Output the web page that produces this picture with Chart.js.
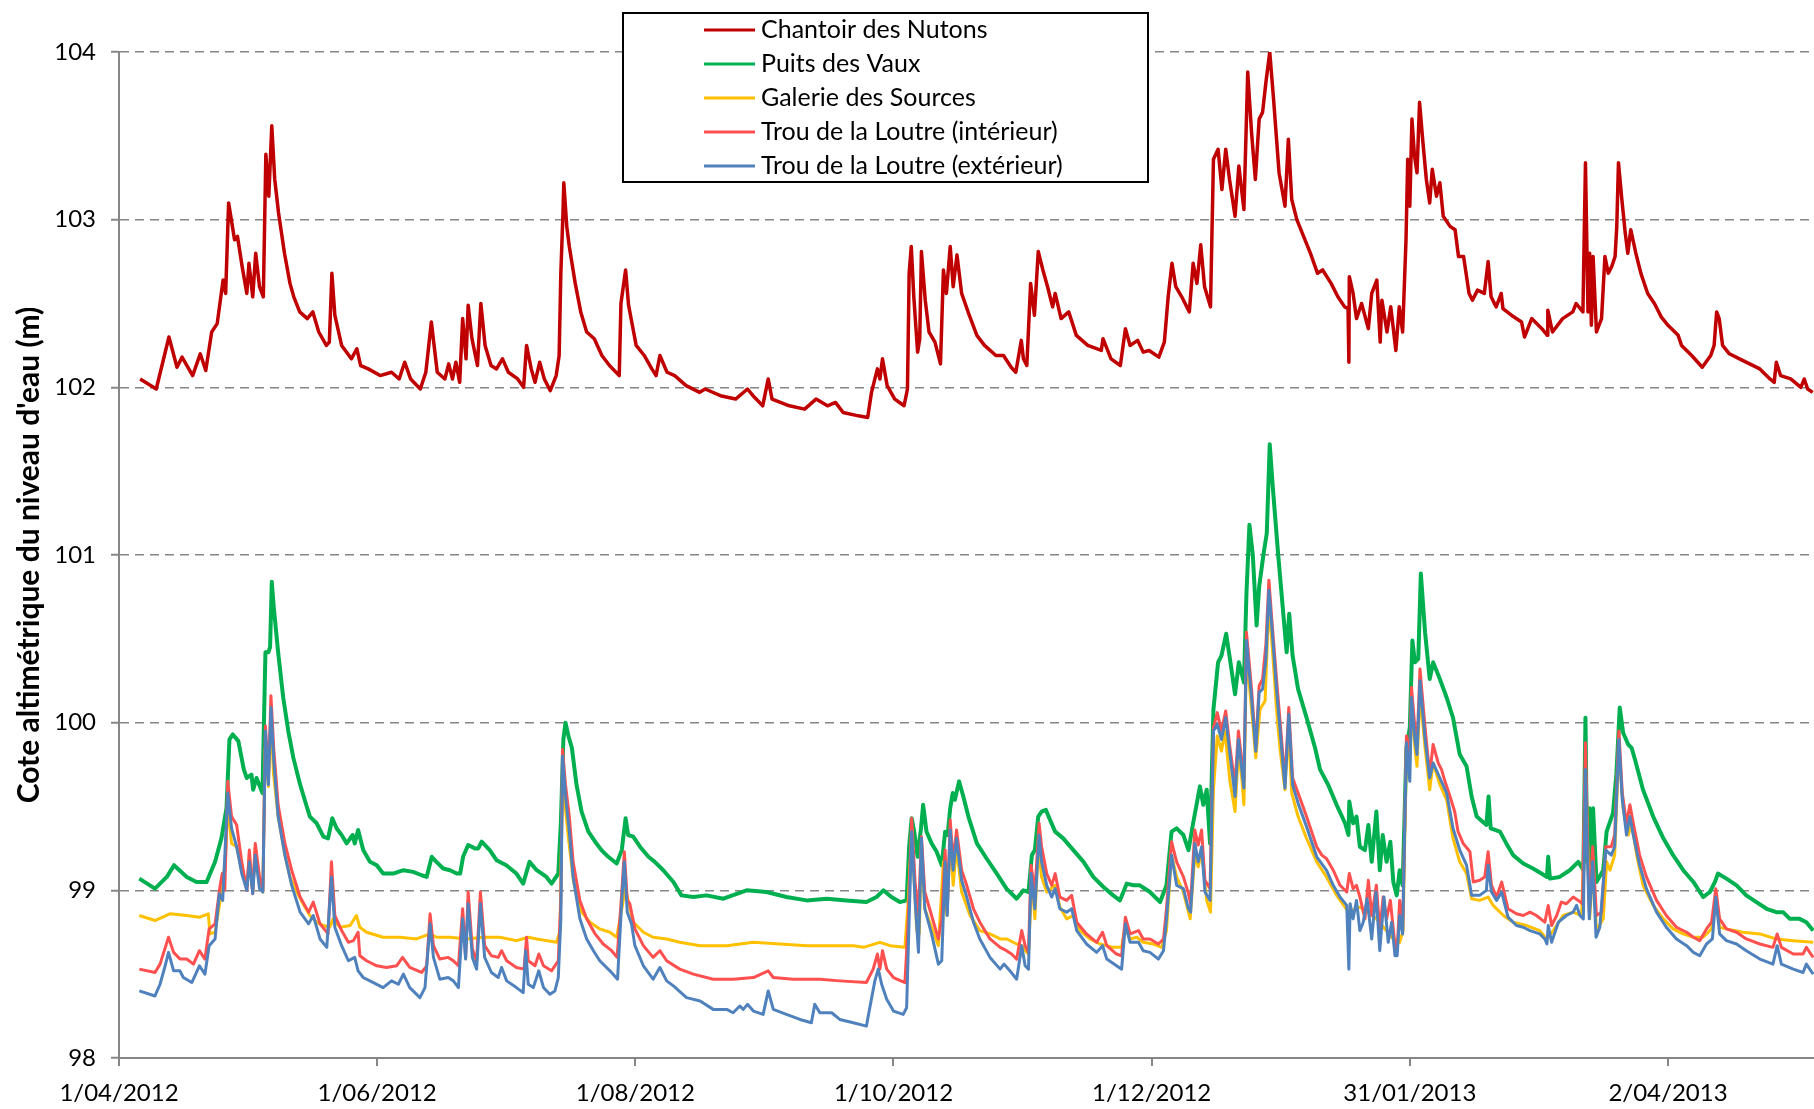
<!DOCTYPE html>
<html>
<head>
<meta charset="utf-8">
<title>Niveaux d'eau</title>
<script src="https://cdn.jsdelivr.net/npm/chart.js@4.4.1/dist/chart.umd.min.js"></script>
<style>
  html, body { margin: 0; padding: 0; background: #fff; }
  #wrap { width: 1814px; height: 1109px; }
</style>
</head>
<body>
<div id="wrap"><canvas id="chart" width="1814" height="1109"></canvas></div>
<script>
// x = days since 1/04/2012, y = water level (m)
const tickDays = [0, 61, 122, 183, 244, 305, 366];
const tickLabels = ['1/04/2012', '1/06/2012', '1/08/2012', '1/10/2012', '1/12/2012', '31/01/2013', '2/04/2013'];
const seriesNames = [
  'Chantoir des Nutons',
  'Puits des Vaux',
  'Galerie des Sources',
  'Trou de la Loutre (intérieur)',
  'Trou de la Loutre (extérieur)'
];

const nutons = [
  [5.0,102.05],[8.8,101.99],[11.8,102.30],[13.7,102.12],[14.9,102.18],[17.4,102.07],[19.2,102.20],[20.5,102.10],[21.9,102.33],[23.2,102.38],
  [24.6,102.64],[25.2,102.56],[25.9,103.10],[27.3,102.88],[28.0,102.90],[29.1,102.72],[30.2,102.56],[30.7,102.74],[31.6,102.54],[32.3,102.80],
  [33.2,102.60],[34.1,102.54],[34.7,103.39],[35.4,103.14],[36.1,103.56],[36.8,103.24],[37.7,103.04],[39.1,102.80],[40.4,102.62],[41.3,102.54],
  [42.7,102.45],[44.5,102.41],[45.8,102.45],[47.2,102.33],[49.0,102.25],[49.7,102.27],[50.3,102.68],[51.0,102.43],[52.6,102.25],[54.9,102.17],
  [56.2,102.23],[57.1,102.13],[58.9,102.11],[61.7,102.07],[64.4,102.09],[66.2,102.05],[67.5,102.15],[68.9,102.05],[71.2,101.99],[72.5,102.09],
  [73.8,102.39],[75.2,102.09],[77.0,102.05],[77.9,102.14],[78.8,102.05],[79.6,102.15],[80.5,102.03],[81.2,102.41],[82.0,102.17],[82.5,102.49],
  [83.4,102.29],[84.7,102.13],[85.5,102.50],[86.5,102.25],[87.9,102.13],[89.2,102.11],[90.6,102.17],[92.0,102.09],[94.2,102.05],[95.6,102.00],
  [96.3,102.25],[97.4,102.11],[98.3,102.03],[99.4,102.15],[100.5,102.05],[101.9,101.98],[103.3,102.07],[104.0,102.19],[104.4,102.68],[104.9,103.04],
  [105.1,103.22],[105.8,102.96],[106.4,102.84],[107.8,102.62],[109.1,102.45],[110.5,102.33],[112.3,102.29],[114.1,102.19],[115.9,102.13],[118.2,102.07],
  [118.6,102.50],[119.7,102.70],[120.4,102.49],[121.3,102.37],[122.2,102.25],[124.1,102.19],[125.9,102.11],[126.9,102.07],[127.8,102.19],[129.5,102.09],
  [131.3,102.07],[134.0,102.01],[137.2,101.97],[138.5,101.99],[142.1,101.95],[145.7,101.93],[148.5,101.99],[149.8,101.95],[152.1,101.89],[153.4,102.05],
  [154.3,101.93],[158.4,101.89],[162.0,101.87],[164.7,101.93],[167.4,101.89],[169.3,101.91],[171.1,101.85],[174.7,101.83],[176.9,101.82],[177.8,101.97],
  [179.2,102.11],[179.8,102.05],[180.4,102.17],[181.5,102.01],[183.3,101.93],[185.5,101.89],[186.3,101.99],[186.7,102.68],[187.2,102.84],[187.8,102.54],
  [188.7,102.21],[189.2,102.29],[189.6,102.81],[190.5,102.52],[191.4,102.33],[192.8,102.27],[194.1,102.14],[194.8,102.70],[195.5,102.56],[196.4,102.84],
  [197.1,102.60],[198.0,102.79],[199.1,102.56],[200.9,102.43],[202.7,102.31],[204.5,102.25],[207.2,102.19],[209.0,102.19],[210.8,102.12],[211.9,102.09],
  [213.2,102.28],[213.7,102.17],[214.5,102.13],[215.4,102.62],[216.3,102.43],[217.2,102.81],[218.3,102.70],[219.4,102.60],[220.6,102.48],[221.2,102.56],
  [222.6,102.41],[224.4,102.45],[226.2,102.31],[228.9,102.25],[232.1,102.22],[232.5,102.29],[234.4,102.17],[236.6,102.13],[237.8,102.35],[238.9,102.25],
  [240.7,102.28],[242.0,102.21],[243.4,102.22],[245.7,102.18],[247.0,102.27],[247.9,102.54],[248.8,102.74],[249.7,102.60],[251.1,102.54],[252.9,102.45],
  [253.8,102.74],[254.7,102.62],[255.6,102.85],[256.5,102.60],[257.9,102.48],[258.6,103.36],[259.7,103.42],[260.6,103.18],[261.5,103.42],[262.4,103.24],
  [263.7,103.02],[264.6,103.32],[265.8,103.06],[266.7,103.88],[267.6,103.52],[268.5,103.24],[269.4,103.60],[270.2,103.64],[271.0,103.82],[271.9,104.00],
  [272.8,103.72],[274.1,103.28],[275.5,103.08],[276.3,103.48],[277.1,103.12],[278.3,103.00],[279.9,102.90],[281.5,102.80],[283.2,102.68],[284.4,102.70],
  [286.4,102.62],[288.0,102.54],[289.6,102.48],[290.4,102.47],[290.6,102.15],[290.7,102.66],[291.6,102.56],[292.4,102.41],[293.6,102.50],[295.2,102.35],
  [296.0,102.56],[297.2,102.64],[298.0,102.27],[298.4,102.52],[299.6,102.33],[300.5,102.48],[301.7,102.22],[302.5,102.48],[303.3,102.33],[304.1,102.88],
  [304.5,103.36],[305.0,103.08],[305.5,103.60],[306.1,103.38],[306.7,103.28],[307.3,103.70],[308.1,103.46],[308.9,103.24],[309.7,103.10],[310.3,103.30],
  [311.3,103.14],[312.1,103.22],[312.9,103.02],[314.5,102.96],[315.7,102.94],[316.5,102.78],[317.7,102.78],[319.0,102.56],[319.8,102.52],[321.0,102.58],
  [322.6,102.56],[323.5,102.75],[324.2,102.54],[325.4,102.48],[326.6,102.56],[327.0,102.47],[329.0,102.43],[331.4,102.39],[332.1,102.30],[333.8,102.41],
  [336.2,102.35],[337.5,102.31],[337.6,102.46],[338.7,102.33],[341.1,102.41],[343.5,102.45],[344.3,102.50],[345.9,102.45],[346.5,103.34],[347.1,102.45],
  [347.5,102.80],[347.9,102.37],[348.3,102.78],[349.1,102.33],[350.3,102.41],[351.1,102.78],[351.9,102.68],[352.7,102.72],[353.5,102.78],[353.9,102.96],
  [354.3,103.34],[355.1,103.12],[355.9,102.92],[356.5,102.80],[357.2,102.94],[358.4,102.80],[359.6,102.68],[361.2,102.56],[362.8,102.50],[364.4,102.42],
  [366.0,102.37],[368.4,102.31],[369.2,102.25],[371.6,102.19],[374.1,102.12],[376.1,102.19],[376.9,102.25],[377.5,102.45],[378.1,102.41],[378.9,102.25],
  [380.5,102.20],[382.9,102.17],[385.3,102.14],[387.7,102.11],[390.1,102.05],[391.1,102.03],[391.6,102.15],[392.6,102.07],[395.0,102.05],[397.4,102.00],
  [398.2,102.05],[399.0,101.99],[400.2,101.97]
];

const vaux = [
  [4.8,99.07],[8.5,99.01],[11.3,99.08],[13.0,99.15],[16.0,99.08],[18.3,99.05],[20.7,99.05],[22.7,99.17],[24.2,99.31],[25.4,99.49],
  [26.1,99.90],[26.9,99.93],[28.2,99.89],[29.5,99.72],[30.2,99.67],[31.3,99.69],[31.7,99.60],[32.5,99.67],[33.9,99.58],[34.6,100.42],
  [35.3,100.42],[35.7,100.45],[36.1,100.84],[36.6,100.68],[37.6,100.42],[38.8,100.15],[40.0,99.95],[41.2,99.79],[42.8,99.63],[44.0,99.53],
  [45.1,99.44],[46.7,99.40],[48.3,99.32],[49.4,99.31],[50.4,99.43],[51.4,99.37],[52.6,99.33],[53.8,99.28],[55.2,99.33],[55.7,99.28],
  [56.5,99.36],[57.7,99.24],[59.3,99.17],[60.9,99.15],[62.4,99.10],[64.8,99.10],[67.2,99.12],[69.5,99.11],[71.5,99.09],[72.7,99.08],
  [73.9,99.20],[75.0,99.17],[76.6,99.13],[78.2,99.12],[79.8,99.10],[80.6,99.10],[81.3,99.20],[82.5,99.27],[84.1,99.25],[84.9,99.25],
  [85.7,99.29],[87.6,99.24],[89.2,99.18],[91.5,99.15],[93.9,99.10],[95.5,99.04],[97.0,99.17],[98.7,99.12],[101.0,99.08],[102.2,99.04],
  [103.8,99.10],[104.4,99.40],[105.0,99.90],[105.5,100.00],[106.2,99.92],[107.0,99.85],[108.1,99.63],[109.3,99.47],[110.9,99.35],[112.5,99.29],
  [114.0,99.24],[115.6,99.20],[117.6,99.16],[118.8,99.24],[119.7,99.43],[120.3,99.33],[121.5,99.32],[123.1,99.26],[125.1,99.20],[126.6,99.17],
  [128.6,99.12],[131.0,99.05],[132.9,98.97],[135.7,98.96],[138.8,98.97],[142.8,98.95],[148.3,99.00],[153.0,98.99],[157.7,98.96],[162.5,98.94],
  [167.2,98.95],[171.9,98.94],[176.6,98.93],[179.0,98.96],[180.6,99.00],[182.5,98.96],[184.5,98.93],[186.1,98.94],[186.7,99.26],[187.3,99.43],
  [187.9,99.35],[188.7,99.20],[189.5,99.37],[190.0,99.51],[190.8,99.35],[192.0,99.28],[193.2,99.23],[194.4,99.15],[195.2,99.35],[195.8,99.33],
  [196.4,99.49],[197.0,99.58],[197.5,99.54],[198.5,99.65],[199.5,99.56],[200.7,99.44],[202.7,99.28],[205.0,99.19],[207.4,99.10],[209.7,99.01],
  [212.1,98.95],[213.7,99.00],[214.9,98.99],[215.7,99.21],[216.4,99.24],[217.2,99.44],[218.0,99.47],[219.0,99.48],[220.0,99.42],[221.2,99.35],
  [223.1,99.31],[225.5,99.24],[227.9,99.17],[230.2,99.08],[232.6,99.02],[234.9,98.97],[236.5,98.94],[238.1,99.04],[239.7,99.03],[241.2,99.03],
  [243.6,98.99],[246.0,98.93],[247.5,99.03],[248.7,99.35],[249.9,99.37],[251.5,99.33],[252.7,99.24],[253.8,99.40],[254.6,99.51],[255.4,99.62],
  [256.2,99.51],[257.0,99.60],[257.8,99.28],[258.6,100.08],[259.7,100.36],[260.5,100.40],[261.6,100.53],[262.5,100.38],[263.7,100.17],[264.6,100.36],
  [265.8,100.24],[266.4,100.77],[267.1,101.18],[267.9,101.00],[268.8,100.58],[269.4,100.81],[270.4,101.00],[271.2,101.13],[271.9,101.66],[272.7,101.38],
  [273.9,101.00],[275.1,100.65],[275.9,100.42],[276.5,100.65],[277.3,100.40],[278.6,100.20],[280.6,100.03],[282.6,99.85],[283.8,99.72],[285.7,99.63],
  [287.7,99.51],[289.7,99.40],[290.5,99.33],[290.7,99.53],[291.6,99.40],[292.4,99.44],[293.2,99.26],[294.4,99.24],[295.2,99.39],[296.0,99.17],
  [297.1,99.47],[297.9,99.12],[298.6,99.33],[299.5,99.17],[300.4,99.29],[301.1,99.05],[301.9,98.97],[302.6,99.12],[303.3,99.03],[304.2,99.85],
  [305.0,99.97],[305.6,100.49],[306.2,100.36],[307.0,100.38],[307.6,100.89],[308.6,100.54],[309.7,100.26],[310.5,100.36],[312.1,100.26],[313.7,100.15],
  [315.2,100.03],[316.8,99.81],[318.4,99.74],[319.6,99.56],[320.8,99.44],[323.1,99.39],[323.6,99.56],[324.1,99.37],[326.3,99.35],[327.8,99.28],
  [329.4,99.21],[331.8,99.16],[334.1,99.13],[336.1,99.10],[337.4,99.08],[337.7,99.20],[338.1,99.07],[340.4,99.08],[342.8,99.12],[344.8,99.17],
  [346.0,99.12],[346.5,100.03],[346.9,99.17],[347.4,99.49],[347.9,99.15],[348.3,99.49],[349.1,99.05],[350.7,99.12],[351.5,99.35],[353.0,99.46],
  [353.8,99.69],[354.6,100.09],[355.4,99.94],[356.6,99.87],[357.4,99.85],[358.2,99.78],[360.1,99.60],[362.5,99.44],[364.9,99.31],[367.2,99.21],
  [369.6,99.12],[372.0,99.05],[374.3,98.96],[375.9,98.99],[377.1,99.05],[377.8,99.10],[379.8,99.07],[382.2,99.03],[384.5,98.97],[386.9,98.93],
  [389.3,98.89],[391.6,98.87],[393.2,98.87],[394.8,98.83],[397.1,98.83],[398.7,98.81],[400.3,98.76]
];

const sources = [
  [4.8,98.85],[8.5,98.82],[12.0,98.86],[16.0,98.85],[19.1,98.84],[21.1,98.86],[21.5,98.74],[22.7,98.75],[23.9,98.94],[25.1,99.17],
  [25.7,99.51],[26.6,99.28],[27.8,99.26],[29.0,99.12],[30.2,99.01],[30.8,99.21],[31.6,98.99],[32.2,99.26],[33.2,99.03],[34.0,98.99],
  [34.5,99.84],[35.3,99.62],[35.9,100.04],[36.5,99.70],[37.6,99.44],[39.2,99.21],[40.4,99.08],[42.0,98.99],[43.5,98.92],[45.1,98.85],
  [46.7,98.81],[48.3,98.79],[49.8,98.78],[50.6,98.83],[52.2,98.78],[54.6,98.79],[56.1,98.85],[56.9,98.78],[58.5,98.75],[62.4,98.72],
  [66.4,98.72],[70.3,98.71],[73.5,98.74],[75.0,98.72],[78.2,98.72],[82.1,98.71],[86.1,98.72],[90.0,98.72],[93.9,98.70],[96.7,98.72],
  [98.7,98.71],[103.4,98.69],[104.2,98.76],[104.8,99.67],[105.4,99.51],[106.2,99.31],[107.4,99.05],[109.3,98.87],[111.3,98.81],[113.6,98.77],
  [116.0,98.75],[117.6,98.72],[118.8,98.89],[119.6,99.01],[120.3,98.94],[121.5,98.81],[123.9,98.75],[126.2,98.72],[129.4,98.71],[132.5,98.69],
  [137.3,98.67],[143.6,98.67],[149.9,98.69],[156.2,98.68],[162.5,98.67],[168.8,98.67],[173.5,98.67],[175.9,98.66],[179.8,98.69],[182.2,98.67],
  [185.7,98.66],[186.5,98.94],[187.3,99.35],[188.5,98.76],[189.1,98.74],[189.6,99.28],[190.4,98.89],[192.0,98.78],[193.6,98.67],[194.8,99.17],
  [195.6,98.85],[196.4,99.31],[197.1,99.03],[197.9,99.26],[199.1,98.99],[201.1,98.85],[203.4,98.76],[205.8,98.74],[208.2,98.71],[209.7,98.71],
  [212.1,98.68],[213.3,98.67],[214.1,98.64],[214.9,98.62],[215.7,99.08],[216.4,98.83],[217.2,99.26],[218.0,99.08],[219.2,98.99],[221.2,99.03],
  [222.3,98.90],[223.9,98.83],[225.5,98.85],[227.1,98.76],[229.4,98.71],[231.8,98.68],[233.4,98.67],[234.9,98.66],[236.9,98.66],[237.7,98.78],
  [238.9,98.71],[240.5,98.72],[242.0,98.69],[244.4,98.68],[246.4,98.66],[247.5,98.76],[248.7,99.21],[249.9,99.08],[251.5,98.99],[253.1,98.83],
  [254.2,99.21],[255.0,99.14],[255.8,99.24],[257.0,98.94],[257.9,98.87],[258.6,99.60],[259.5,99.92],[260.5,99.83],[261.3,99.95],[262.5,99.65],
  [263.7,99.47],[264.5,99.83],[265.3,99.67],[265.8,99.51],[266.4,100.42],[267.6,100.08],[268.6,99.79],[269.6,100.08],[270.8,100.13],[271.7,100.72],
  [272.5,100.45],[273.5,100.08],[274.3,99.85],[275.5,99.60],[276.3,99.97],[277.1,99.58],[278.6,99.44],[280.6,99.31],[283.0,99.17],[285.3,99.08],
  [287.7,98.97],[289.7,98.90],[290.5,98.87],[293.2,98.90],[297.1,98.83],[301.1,98.71],[302.6,98.69],[303.4,98.76],[304.2,99.85],[305.0,99.78],
  [305.4,100.08],[306.2,99.85],[306.7,99.74],[307.4,100.17],[308.6,99.85],[309.7,99.60],[310.5,99.76],[312.1,99.63],[313.7,99.54],[315.2,99.31],
  [316.8,99.17],[318.4,99.10],[319.6,98.95],[321.5,98.94],[323.5,98.96],[324.7,98.91],[327.1,98.85],[329.4,98.81],[332.6,98.79],[335.7,98.76],
  [337.3,98.71],[338.9,98.76],[341.2,98.85],[343.6,98.87],[345.6,98.85],[346.6,99.67],[347.5,98.83],[348.3,99.17],[349.1,98.76],[350.7,98.83],
  [351.5,99.17],[352.3,99.12],[353.4,99.21],[354.4,99.85],[355.4,99.49],[356.6,99.33],[357.4,99.40],[358.6,99.21],[360.1,99.03],[362.5,98.91],
  [364.9,98.83],[367.2,98.77],[369.6,98.74],[372.0,98.72],[374.3,98.72],[376.3,98.77],[377.3,98.96],[378.2,98.78],[379.8,98.77],[383.7,98.75],
  [387.7,98.74],[391.6,98.71],[395.6,98.70],[400.3,98.69]
];

const interieur = [
  [4.8,98.53],[8.5,98.51],[9.7,98.56],[11.7,98.72],[12.9,98.63],[14.4,98.59],[16.0,98.59],[17.6,98.56],[19.0,98.64],[20.3,98.59],
  [21.3,98.77],[22.7,98.80],[23.9,99.03],[24.4,99.10],[25.0,99.00],[25.7,99.65],[26.6,99.44],[27.8,99.39],[29.0,99.17],[30.2,99.00],
  [30.8,99.24],[31.6,98.98],[32.2,99.28],[33.2,99.08],[34.0,99.00],[34.6,99.98],[35.3,99.67],[35.9,100.16],[36.6,99.83],[37.6,99.51],
  [39.2,99.28],[40.8,99.12],[42.8,98.96],[44.8,98.87],[45.9,98.93],[47.5,98.80],[49.4,98.74],[50.2,99.17],[51.0,98.85],[52.6,98.76],
  [54.2,98.69],[55.4,98.70],[56.5,98.75],[56.9,98.61],[58.5,98.58],[60.9,98.55],[63.2,98.54],[65.6,98.55],[67.0,98.60],[68.7,98.54],
  [71.5,98.51],[72.7,98.55],[73.5,98.86],[74.3,98.67],[75.8,98.59],[77.8,98.60],[79.0,98.58],[80.2,98.55],[81.2,98.89],[81.9,98.60],
  [82.5,98.99],[83.5,98.65],[84.5,98.58],[85.4,98.99],[86.4,98.67],[88.0,98.61],[89.6,98.60],[90.4,98.64],[91.6,98.58],[93.9,98.54],
  [95.7,98.53],[96.3,98.72],[96.7,98.58],[98.3,98.55],[99.2,98.62],[100.3,98.55],[102.2,98.52],[103.8,98.58],[104.4,98.94],[104.8,99.84],
  [105.5,99.63],[106.4,99.44],[107.3,99.17],[108.9,98.94],[110.5,98.83],[112.5,98.74],[114.4,98.68],[116.4,98.64],[117.7,98.60],[118.8,98.99],
  [119.4,99.23],[120.1,98.94],[120.7,98.92],[121.9,98.77],[123.9,98.67],[126.2,98.60],[127.8,98.64],[129.4,98.58],[132.5,98.53],[135.7,98.50],
  [140.4,98.47],[145.1,98.47],[149.9,98.48],[153.4,98.52],[154.6,98.48],[159.3,98.47],[165.6,98.47],[170.3,98.46],[176.6,98.45],[178.2,98.53],
  [179.2,98.62],[179.8,98.53],[180.4,98.64],[181.4,98.53],[183.0,98.48],[185.7,98.45],[186.5,98.83],[187.3,99.43],[188.1,99.05],[188.9,98.85],
  [189.6,99.32],[190.4,98.99],[192.0,98.85],[193.6,98.71],[194.4,98.83],[195.2,99.24],[195.7,98.87],[196.4,99.42],[197.1,99.17],[197.9,99.36],
  [199.1,99.12],[200.3,99.03],[201.9,98.89],[203.4,98.81],[205.8,98.71],[208.2,98.66],[209.7,98.64],[210.9,98.62],[212.1,98.59],[213.3,98.76],
  [214.1,98.67],[214.9,98.63],[215.5,99.15],[216.4,98.99],[217.4,99.40],[218.0,99.26],[219.2,99.10],[220.4,99.03],[221.2,99.10],[222.3,98.96],
  [223.9,98.94],[225.1,98.97],[226.3,98.81],[228.6,98.74],[231.0,98.69],[232.4,98.75],[233.4,98.67],[235.7,98.62],[236.9,98.61],[237.8,98.84],
  [238.9,98.74],[240.9,98.76],[242.0,98.71],[243.6,98.71],[245.6,98.68],[246.8,98.71],[247.5,98.89],[248.7,99.29],[249.9,99.17],[251.5,99.08],
  [252.7,98.98],[253.2,98.92],[254.2,99.36],[255.0,99.27],[255.8,99.36],[256.6,99.06],[257.8,99.01],[258.6,99.97],[259.5,100.06],[260.5,99.95],
  [261.5,100.07],[262.5,99.85],[263.7,99.63],[264.5,99.95],[265.3,99.77],[265.8,99.65],[266.4,100.54],[267.6,100.20],[268.6,99.85],[269.4,100.22],
  [270.2,100.26],[271.0,100.47],[271.7,100.85],[272.5,100.58],[273.5,100.26],[274.7,99.90],[275.5,99.65],[276.4,100.09],[277.3,99.67],[278.6,99.58],
  [280.6,99.44],[283.0,99.26],[284.2,99.21],[285.3,99.19],[286.9,99.12],[288.5,99.03],[290.1,98.99],[290.7,99.10],[291.6,99.01],[292.4,99.03],
  [293.2,98.96],[294.4,98.83],[295.2,99.06],[296.0,98.85],[297.1,99.03],[297.9,98.76],[298.7,98.96],[299.5,98.83],[300.4,98.94],[301.5,98.67],
  [302.0,98.64],[302.6,98.94],[303.3,98.76],[304.2,99.92],[305.0,99.81],[305.4,100.21],[306.2,99.97],[306.7,99.86],[307.4,100.32],[308.6,99.97],
  [309.7,99.69],[310.5,99.87],[311.7,99.76],[312.5,99.72],[313.3,99.65],[314.5,99.56],[315.6,99.47],[316.4,99.35],[317.6,99.28],[319.2,99.23],
  [320.0,99.05],[321.5,99.06],[322.7,99.08],[323.5,99.23],[324.3,99.03],[325.5,98.96],[326.7,99.05],[328.2,98.89],[330.2,98.86],[331.8,98.85],
  [333.4,98.87],[334.9,98.85],[336.9,98.81],[337.7,98.91],[338.5,98.79],[339.7,98.85],[340.8,98.93],[342.0,98.92],[343.6,98.96],[344.8,98.94],
  [345.8,98.92],[346.5,99.88],[347.0,99.28],[347.4,98.87],[348.2,99.26],[349.1,98.85],[350.3,98.87],[351.3,99.26],[352.6,99.26],[353.4,99.33],
  [354.4,99.95],[355.2,99.58],[356.2,99.40],[357.0,99.51],[357.8,99.40],[359.3,99.21],[360.9,99.08],[363.3,98.94],[365.6,98.85],[368.0,98.78],
  [370.4,98.75],[372.0,98.72],[373.5,98.70],[375.1,98.77],[376.3,98.81],[377.3,99.01],[378.2,98.83],[379.8,98.77],[382.2,98.75],[384.5,98.71],
  [387.7,98.68],[390.8,98.66],[391.8,98.74],[392.8,98.66],[395.6,98.62],[397.9,98.62],[398.7,98.66],[400.3,98.60]
];

const exterieur = [
  [4.8,98.40],[8.5,98.37],[9.7,98.44],[10.9,98.55],[11.7,98.63],[12.9,98.52],[14.4,98.52],[15.2,98.48],[17.2,98.45],[19.0,98.55],
  [20.3,98.50],[21.3,98.67],[22.7,98.71],[23.7,98.98],[24.5,98.94],[25.7,99.58],[26.6,99.37],[27.8,99.26],[29.0,99.10],[30.2,99.00],
  [30.8,99.17],[31.6,98.98],[32.2,99.21],[33.2,99.01],[34.0,98.99],[34.6,99.95],[35.3,99.63],[35.9,100.09],[36.6,99.76],[37.6,99.44],
  [39.2,99.21],[40.8,99.03],[42.8,98.87],[44.8,98.80],[45.9,98.85],[47.5,98.71],[49.1,98.66],[50.2,99.08],[51.0,98.78],[52.6,98.67],
  [54.2,98.58],[55.7,98.60],[56.5,98.52],[57.7,98.48],[60.1,98.45],[62.4,98.42],[64.4,98.46],[66.0,98.44],[67.2,98.50],[68.7,98.42],
  [71.1,98.36],[72.3,98.42],[73.5,98.80],[74.3,98.60],[75.8,98.47],[77.8,98.48],[79.0,98.46],[80.2,98.42],[81.2,98.83],[81.9,98.59],
  [82.5,98.92],[83.5,98.60],[84.5,98.53],[85.4,98.92],[86.4,98.60],[88.0,98.51],[89.6,98.48],[90.4,98.54],[91.6,98.46],[93.9,98.42],
  [95.5,98.39],[96.1,98.64],[96.7,98.44],[97.9,98.42],[99.2,98.52],[100.3,98.42],[101.8,98.38],[103.0,98.40],[103.8,98.48],[104.4,98.83],
  [104.8,99.80],[105.5,99.56],[106.4,99.35],[107.3,99.08],[108.9,98.83],[110.5,98.71],[112.1,98.64],[113.6,98.58],[116.0,98.52],[117.8,98.47],
  [118.8,98.94],[119.4,99.17],[120.1,98.87],[121.1,98.80],[121.9,98.67],[123.9,98.55],[126.2,98.47],[127.8,98.54],[129.4,98.46],[131.0,98.43],
  [134.1,98.36],[137.3,98.34],[140.4,98.29],[143.6,98.29],[145.1,98.27],[146.7,98.31],[147.5,98.29],[148.5,98.32],[149.9,98.28],[152.2,98.26],
  [153.4,98.40],[154.6,98.29],[157.7,98.26],[160.9,98.23],[163.6,98.21],[164.4,98.32],[165.6,98.27],[168.4,98.27],[170.3,98.23],[173.5,98.21],
  [176.6,98.19],[177.4,98.30],[178.6,98.46],[179.4,98.53],[180.2,98.44],[181.4,98.35],[183.0,98.28],[185.3,98.26],[186.1,98.30],[186.7,98.83],
  [187.3,99.35],[188.1,98.94],[188.9,98.63],[189.6,99.31],[190.4,98.89],[192.0,98.74],[193.6,98.56],[194.4,98.58],[195.2,99.17],[195.7,98.85],
  [196.4,99.36],[197.1,99.12],[197.9,99.31],[199.1,99.06],[200.3,98.96],[201.9,98.81],[203.4,98.71],[205.8,98.60],[208.2,98.53],[209.1,98.56],
  [210.5,98.52],[212.1,98.47],[213.3,98.67],[214.1,98.55],[214.9,98.53],[215.5,99.10],[216.4,98.89],[217.4,99.33],[218.0,99.17],[219.2,99.03],
  [220.4,98.96],[221.2,99.01],[222.3,98.89],[223.9,98.87],[225.1,98.89],[226.3,98.76],[228.6,98.68],[231.0,98.63],[232.4,98.67],[233.4,98.59],
  [235.7,98.55],[236.9,98.53],[237.8,98.80],[238.9,98.69],[240.9,98.69],[242.0,98.64],[243.6,98.63],[245.6,98.59],[246.8,98.64],[247.5,98.83],
  [248.7,99.21],[249.9,99.03],[251.5,99.01],[252.7,98.89],[253.2,98.87],[254.2,99.28],[255.0,99.17],[255.8,99.26],[256.6,98.99],[257.8,98.94],
  [258.6,99.95],[259.5,99.99],[260.5,99.90],[261.5,100.03],[262.5,99.81],[263.7,99.56],[264.5,99.90],[265.3,99.72],[265.8,99.61],[266.4,100.49],
  [267.6,100.15],[268.6,99.83],[269.4,100.18],[270.2,100.20],[271.0,100.38],[271.7,100.79],[272.5,100.54],[273.5,100.20],[274.7,99.85],[275.5,99.61],
  [276.4,100.05],[277.3,99.63],[278.6,99.52],[280.6,99.38],[283.0,99.20],[285.3,99.12],[286.9,99.03],[288.5,98.96],[290.1,98.91],[290.6,98.53],
  [290.9,98.92],[291.6,98.83],[292.4,98.94],[293.2,98.76],[294.0,98.81],[294.9,98.95],[296.0,98.71],[297.0,98.99],[297.9,98.64],[298.9,98.96],
  [299.9,98.69],[300.7,98.81],[301.5,98.61],[302.0,98.61],[302.6,98.85],[303.3,98.74],[304.2,99.88],[305.0,99.65],[305.4,100.15],[306.2,99.90],
  [306.7,99.81],[307.4,100.25],[308.6,99.90],[309.7,99.67],[310.5,99.76],[312.1,99.67],[313.7,99.58],[315.2,99.37],[316.8,99.24],[318.4,99.15],
  [319.6,98.97],[321.5,98.97],[323.1,99.00],[323.5,99.15],[324.3,98.99],[325.5,98.94],[326.7,98.99],[328.2,98.84],[330.2,98.79],[331.8,98.78],
  [333.4,98.76],[335.7,98.74],[336.9,98.71],[337.4,98.68],[337.7,98.79],[338.5,98.69],[340.1,98.81],[342.0,98.85],[343.6,98.87],[344.4,98.91],
  [345.2,98.85],[346.0,98.83],[346.5,99.72],[347.0,99.17],[347.4,98.83],[348.2,99.17],[349.0,98.72],[349.9,98.78],[351.3,99.24],[352.6,99.21],
  [353.4,99.26],[354.4,99.90],[355.2,99.54],[356.2,99.33],[357.0,99.44],[357.8,99.33],[359.3,99.15],[360.9,99.01],[363.3,98.87],[365.6,98.78],
  [368.0,98.71],[370.4,98.67],[372.0,98.63],[373.5,98.61],[375.1,98.68],[376.5,98.71],[377.3,98.96],[378.2,98.74],[379.8,98.70],[382.2,98.68],
  [384.5,98.64],[387.7,98.59],[390.8,98.56],[391.8,98.67],[392.8,98.56],[395.6,98.53],[397.9,98.51],[398.7,98.56],[400.3,98.50]
];

const toPoints = (rows) => rows.map(([x, y]) => ({ x, y }));

const axisGrey = '#868686';
const labelFont = { family: 'Lato', size: 24 };

// boxed legend drawn over the top of the plot, like the Excel original
const boxLegend = {
  id: 'boxLegend',
  afterDraw(chart) {
    const ctx = chart.ctx;
    ctx.save();
    ctx.fillStyle = '#fff';
    ctx.fillRect(623, 13, 525, 169);
    ctx.strokeStyle = '#000';
    ctx.lineWidth = 2;
    ctx.strokeRect(623, 13, 525, 169);
    ctx.font = '25px Lato';
    ctx.textBaseline = 'middle';
    chart.data.datasets.forEach((ds, i) => {
      const y = 30 + i * 34;
      ctx.strokeStyle = ds.borderColor;
      ctx.lineWidth = 3;
      ctx.beginPath();
      ctx.moveTo(704, y);
      ctx.lineTo(755, y);
      ctx.stroke();
      ctx.fillStyle = '#000';
      ctx.fillText(ds.label, 761, y);
    });
    ctx.restore();
  }
};

const ctx = document.getElementById('chart').getContext('2d');
new Chart(ctx, {
  type: 'line',
  data: {
    datasets: [
      { label: seriesNames[0], data: toPoints(nutons), borderColor: '#C00000', borderWidth: 3.5, order: 4 },
      { label: seriesNames[1], data: toPoints(vaux), borderColor: '#00B050', borderWidth: 4, order: 3 },
      { label: seriesNames[2], data: toPoints(sources), borderColor: '#FFC000', borderWidth: 3, order: 2 },
      { label: seriesNames[3], data: toPoints(interieur), borderColor: '#FF5050', borderWidth: 3, order: 1 },
      { label: seriesNames[4], data: toPoints(exterieur), borderColor: '#4F81BD', borderWidth: 3, order: 0 }
    ]
  },
  options: {
    responsive: false,
    animation: false,
    layout: { padding: { top: 52, right: 0, bottom: 0, left: 0 } },
    elements: {
      point: { radius: 0, hoverRadius: 0 },
      line: { tension: 0, borderJoinStyle: 'round' }
    },
    plugins: {
      legend: { display: false },
      tooltip: { enabled: false }
    },
    scales: {
      x: {
        type: 'linear',
        min: 0,
        max: 400.5,
        afterBuildTicks: (scale) => { scale.ticks = tickDays.map((v) => ({ value: v })); },
        afterFit: (scale) => { scale.height = 51; },
        grid: { drawOnChartArea: false, drawTicks: true, tickLength: 8, color: axisGrey, lineWidth: 2 },
        border: { color: axisGrey, width: 2 },
        ticks: {
          callback: (value, index) => tickLabels[index],
          font: labelFont,
          color: '#000',
          padding: 13,
          maxRotation: 0,
          autoSkip: false
        }
      },
      y: {
        min: 98,
        max: 104,
        afterFit: (scale) => { scale.width = 119; },
        grid: { color: axisGrey, lineWidth: 1.5, tickLength: 8, tickColor: axisGrey, tickWidth: 2 },
        border: { color: axisGrey, width: 2, dash: [9, 6] },
        ticks: { stepSize: 1, font: labelFont, color: '#000', padding: 15 },
        title: {
          display: true,
          text: "Cote altimétrique du niveau d'eau (m)",
          font: { family: 'Lato', size: 30, weight: 'bold' },
          color: '#000',
          padding: { top: 11, bottom: 0 }
        }
      }
    }
  },
  plugins: [boxLegend]
});
</script>
</body>
</html>
